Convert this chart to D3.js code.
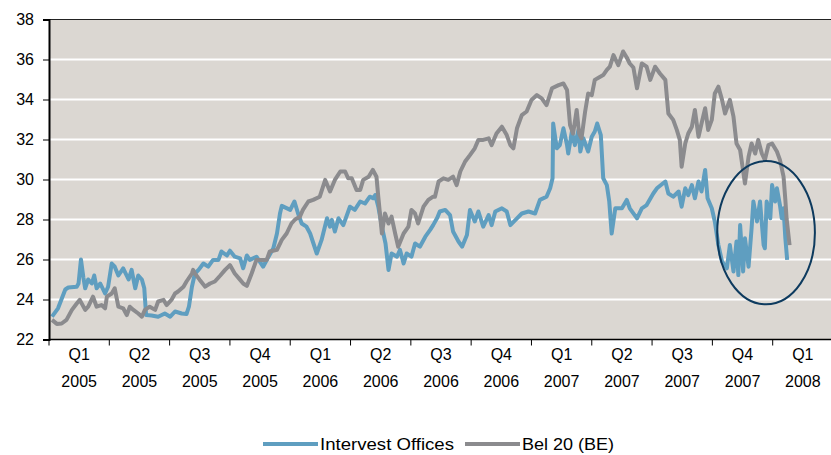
<!DOCTYPE html>
<html>
<head>
<meta charset="utf-8">
<script src="https://cdn.jsdelivr.net/npm/d3@7"></script>
<style>
  body { margin: 0; background: #fff; }
  text { font-family: Arial, "Liberation Sans", sans-serif; fill: #000; }
</style>
</head>
<body>
<div id="chart"></div>
<script>
// quarters on the axis (position 0 = start of Q1 2005)
const quarterLabels = ['Q1','Q2','Q3','Q4','Q1','Q2','Q3','Q4','Q1','Q2','Q3','Q4','Q1']
const yearLabels = ['2005','2005','2005','2005','2006','2006','2006','2006','2007','2007','2007','2007','2008']
const yTicks = [22, 24, 26, 28, 30, 32, 34, 36, 38]
const seriesNames = ['Intervest Offices', 'Bel 20 (BE)']

// [quarters since 1 Jan 2005, price]
const intervest = [
  [0.05,23.14],[0.15,23.56],[0.27,24.5],[0.32,24.6],[0.46,24.64],[0.49,24.8],[0.53,26.0],[0.57,25.1],
  [0.60,24.56],[0.65,25.0],[0.71,24.8],[0.75,25.2],[0.79,24.56],[0.85,24.8],[0.93,24.3],[0.98,24.64],
  [1.04,25.8],[1.09,25.64],[1.15,25.2],[1.23,25.56],[1.32,25.0],[1.37,25.48],[1.43,24.56],[1.48,25.2],
  [1.54,25.0],[1.58,24.56],[1.61,23.22],[1.70,23.2],[1.81,23.14],[1.92,23.3],[2.01,23.14],[2.09,23.4],
  [2.20,23.3],[2.28,23.27],[2.32,23.64],[2.37,24.64],[2.42,25.3],[2.48,25.48],[2.56,25.8],[2.64,25.64],
  [2.72,25.98],[2.81,25.98],[2.86,26.4],[2.95,26.2],[3.00,26.44],[3.08,26.14],[3.17,26.06],[3.22,25.56],
  [3.28,26.2],[3.33,25.98],[3.44,26.14],[3.55,25.64],[3.64,26.14],[3.72,26.56],[3.78,27.3],[3.83,28.3],
  [3.86,28.68],[4.00,28.48],[4.07,28.9],[4.13,28.3],[4.19,27.8],[4.27,27.64],[4.33,27.3],[4.44,26.3],
  [4.52,26.98],[4.61,28.06],[4.66,27.64],[4.69,27.98],[4.74,27.4],[4.80,28.06],[4.88,27.72],[4.99,28.64],
  [5.07,28.48],[5.16,28.9],[5.24,28.8],[5.32,29.14],[5.38,29.06],[5.41,29.22],[5.46,28.64],[5.52,27.64],
  [5.58,26.8],[5.63,25.48],[5.68,26.3],[5.77,26.14],[5.82,26.48],[5.88,25.8],[5.93,26.3],[6.01,26.14],
  [6.07,26.8],[6.15,26.64],[6.24,27.14],[6.32,27.48],[6.37,27.72],[6.44,28.1],[6.48,28.4],[6.57,28.48],
  [6.65,28.22],[6.70,27.4],[6.79,26.9],[6.85,26.64],[6.93,27.22],[6.98,28.48],[7.06,27.9],[7.12,28.4],
  [7.20,27.64],[7.29,28.22],[7.34,27.72],[7.40,28.4],[7.51,28.56],[7.59,28.4],[7.65,27.72],[7.76,28.06],
  [7.84,28.3],[7.95,28.4],[8.06,28.3],[8.14,28.98],[8.25,29.14],[8.31,29.56],[8.35,30.06],[8.36,32.8],
  [8.42,31.56],[8.47,31.72],[8.53,32.56],[8.59,31.72],[8.61,31.3],[8.67,32.4],[8.72,31.72],[8.78,32.48],
  [8.81,31.4],[8.86,32.06],[8.94,31.4],[9.00,32.14],[9.05,32.4],[9.09,32.8],[9.15,32.22],[9.19,30.06],
  [9.25,29.72],[9.29,28.9],[9.33,27.3],[9.39,28.56],[9.50,28.56],[9.58,28.98],[9.63,28.56],[9.75,28.06],
  [9.83,28.56],[9.91,28.72],[10.02,29.3],[10.08,29.56],[10.22,29.9],[10.27,29.3],[10.35,29.14],[10.44,29.4],
  [10.49,28.64],[10.55,29.56],[10.60,29.22],[10.66,29.72],[10.71,29.06],[10.77,29.9],[10.82,29.4],[10.88,30.48],
  [10.92,29.06],[10.99,28.56],[11.04,27.9],[11.10,26.72],[11.16,25.9],[11.24,25.56],[11.29,26.72],[11.35,25.4],
  [11.40,26.9],[11.43,25.22],[11.46,27.72],[11.51,25.4],[11.54,27.06],[11.60,25.64],[11.65,27.56],[11.68,28.9],
  [11.74,27.9],[11.79,28.9],[11.85,26.72],[11.87,26.56],[11.90,28.9],[11.96,28.06],[11.99,29.72],[12.04,28.9],
  [12.07,29.56],[12.12,28.72],[12.15,28.06],[12.18,28.56],[12.21,27.06],[12.24,25.98]
]

const bel20 = [
  [0.05,22.98],[0.13,22.78],[0.21,22.8],[0.29,22.98],[0.38,23.48],[0.46,23.8],[0.51,23.98],[0.60,23.48],
  [0.65,23.64],[0.73,24.14],[0.79,23.64],[0.87,23.72],[0.93,23.56],[0.96,24.14],[1.04,24.3],[1.09,24.56],
  [1.15,23.64],[1.23,23.56],[1.29,23.22],[1.34,23.64],[1.40,23.48],[1.48,23.3],[1.54,23.14],[1.59,23.48],
  [1.67,23.64],[1.76,23.48],[1.81,23.9],[1.90,23.98],[1.95,23.72],[2.03,23.98],[2.09,24.3],[2.14,24.4],
  [2.23,24.64],[2.28,24.9],[2.37,25.3],[2.39,25.48],[2.42,25.3],[2.50,24.98],[2.59,24.64],[2.67,24.8],
  [2.75,24.9],[2.84,25.2],[2.92,25.48],[3.00,25.72],[3.08,25.3],[3.17,24.98],[3.22,24.8],[3.28,24.68],
  [3.36,25.3],[3.44,25.98],[3.55,25.98],[3.61,25.98],[3.66,26.4],[3.78,26.48],[3.86,26.98],[3.94,27.3],
  [4.02,27.8],[4.08,28.0],[4.16,28.14],[4.21,28.48],[4.30,28.9],[4.38,28.98],[4.49,29.14],[4.58,29.98],
  [4.66,29.4],[4.74,29.98],[4.83,30.4],[4.91,30.4],[4.96,30.06],[5.02,30.06],[5.10,29.48],[5.16,29.48],
  [5.21,29.98],[5.30,30.14],[5.37,30.48],[5.43,30.14],[5.46,29.14],[5.52,27.3],[5.57,28.3],[5.63,27.8],
  [5.68,28.14],[5.74,27.3],[5.79,26.64],[5.88,27.3],[5.96,27.64],[6.01,28.48],[6.07,28.3],[6.12,27.8],
  [6.21,28.64],[6.29,28.98],[6.37,29.14],[6.40,29.14],[6.46,29.9],[6.54,30.06],[6.62,29.98],[6.70,30.14],
  [6.76,29.72],[6.82,30.4],[6.90,30.9],[6.98,31.22],[7.06,31.56],[7.12,31.98],[7.20,31.98],[7.29,32.06],
  [7.34,31.72],[7.42,32.3],[7.51,32.64],[7.59,32.22],[7.65,31.72],[7.70,31.56],[7.76,32.56],[7.84,33.22],
  [7.92,33.4],[8.00,33.98],[8.09,34.22],[8.17,34.06],[8.25,33.72],[8.34,34.56],[8.45,34.72],[8.53,34.8],
  [8.59,34.48],[8.64,32.72],[8.69,32.3],[8.75,33.48],[8.79,32.3],[8.83,32.06],[8.89,33.4],[8.94,34.3],
  [9.00,34.22],[9.05,34.98],[9.14,35.14],[9.19,35.22],[9.25,35.48],[9.30,35.64],[9.36,36.22],[9.44,35.72],
  [9.52,36.4],[9.58,36.1],[9.63,35.8],[9.69,35.6],[9.75,34.56],[9.83,35.8],[9.91,35.64],[9.97,34.98],
  [10.05,35.64],[10.13,35.3],[10.22,34.98],[10.27,33.3],[10.35,32.98],[10.41,32.48],[10.46,31.98],[10.49,30.64],
  [10.55,31.8],[10.60,32.3],[10.66,32.64],[10.71,33.48],[10.77,32.14],[10.82,32.8],[10.88,33.56],[10.93,32.48],
  [10.99,32.98],[11.04,34.3],[11.10,34.64],[11.16,33.98],[11.21,33.3],[11.29,33.98],[11.35,33.14],[11.40,31.8],
  [11.46,31.48],[11.50,30.64],[11.54,29.8],[11.60,31.14],[11.65,31.8],[11.71,31.3],[11.76,31.98],[11.82,31.3],
  [11.87,30.98],[11.93,31.72],[11.99,31.8],[12.07,31.4],[12.12,30.98],[12.18,30.14],[12.21,28.98],[12.23,28.06],
  [12.28,26.72]
]

// highlight ellipse around the last quarter: centre [quarter, price], radii [quarters, price]
const highlight = { cx: 11.89, cy: 27.34, rx: 0.81, ry: 3.58 }

const colors = { blue: '#5f9ec0', grey: '#8b8b8e', plot: '#dbd7d2', ring: '#0d3a5e' }

const width = 831, height = 455
const svg = d3.select('#chart').append('svg')
  .attr('width', width)
  .attr('height', height)

const x = d3.scaleLinear().domain([0, 13]).range([49, 833])
const y = d3.scaleLinear().domain([22, 38]).range([339.5, 19.5])

svg.append('defs').append('clipPath').attr('id', 'plotclip')
  .append('rect')
  .attr('x', x(0)).attr('y', y(38))
  .attr('width', width - x(0)).attr('height', y(22) - y(38))

// plot background
svg.append('rect')
  .attr('x', x(0))
  .attr('y', y(38))
  .attr('width', width - x(0))
  .attr('height', y(22) - y(38))
  .attr('fill', colors.plot)

// gridlines
svg.append('g').selectAll('line')
  .data(yTicks.filter(d => d > 22 && d < 38))
  .enter()
  .append('line')
  .attr('x1', x(0)).attr('x2', width)
  .attr('y1', d => y(d)).attr('y2', d => y(d))
  .attr('stroke', '#fff')
  .attr('stroke-width', 2)

// top border
svg.append('line')
  .attr('x1', x(0)).attr('x2', width)
  .attr('y1', y(38)).attr('y2', y(38))
  .attr('stroke', '#222').attr('stroke-width', 1)

const line = d3.line()
  .x(d => x(d[0]))
  .y(d => y(d[1]))

const lines = svg.append('g').attr('clip-path', 'url(#plotclip)')
lines.append('path')
  .datum(intervest)
  .attr('d', line)
  .attr('fill', 'none')
  .attr('stroke', colors.blue)
  .attr('stroke-width', 4)
  .attr('stroke-linejoin', 'round')
lines.append('path')
  .datum(bel20)
  .attr('d', line)
  .attr('fill', 'none')
  .attr('stroke', colors.grey)
  .attr('stroke-width', 4)
  .attr('stroke-linejoin', 'round')

// the ring
svg.append('ellipse')
  .attr('cx', x(highlight.cx))
  .attr('cy', y(highlight.cy))
  .attr('rx', x(highlight.rx) - x(0))
  .attr('ry', y(22) - y(22 + highlight.ry))
  .attr('fill', 'none')
  .attr('stroke', colors.ring)
  .attr('stroke-width', 2)

// y axis
const yAxis = d3.axisLeft(y)
  .tickValues(yTicks)
  .tickSize(6)
  .tickPadding(9)
  .tickFormat(d3.format('d'))
const yg = svg.append('g')
  .attr('transform', 'translate(' + x(0) + ',0)')
  .call(yAxis)
yg.select('.domain').attr('stroke', '#000').attr('stroke-width', 2)
yg.selectAll('.tick line').attr('stroke', '#000')
yg.selectAll('.tick text').style('font-size', '16px').attr('fill', '#000')

// x axis (ticks only at quarter boundaries)
const xg = svg.append('g')
  .attr('transform', 'translate(0,' + y(22) + ')')
xg.append('line')
  .attr('x1', x(0)).attr('x2', width)
  .attr('stroke', '#000').attr('stroke-width', 1.5)
xg.selectAll('.qtick')
  .data(d3.range(0, quarterLabels.length))
  .enter()
  .append('line')
  .attr('class', 'qtick')
  .attr('x1', d => x(d)).attr('x2', d => x(d))
  .attr('y1', 0).attr('y2', 6)
  .attr('stroke', '#000')

const labels = xg.selectAll('.qlabel')
  .data(quarterLabels)
  .enter()
  .append('text')
  .attr('class', 'qlabel')
  .attr('text-anchor', 'middle')
  .style('font-size', '16px')
labels.append('tspan')
  .attr('x', (d, i) => x(i + 0.5))
  .attr('y', 20)
  .text(d => d)
labels.append('tspan')
  .attr('x', (d, i) => x(i + 0.5))
  .attr('y', 47)
  .text((d, i) => yearLabels[i])

// legend (text in the original is a bit stretched, so fix its length)
const legend = svg.append('g').attr('transform', 'translate(263,444)')
const legendX = [0, 202]
const legendLen = [134, 92]
const legendColors = [colors.blue, colors.grey]
seriesNames.forEach((name, i) => {
  legend.append('line')
    .attr('x1', legendX[i]).attr('x2', legendX[i] + 55)
    .attr('y1', 0).attr('y2', 0)
    .attr('stroke', legendColors[i])
    .attr('stroke-width', 4)
  legend.append('text')
    .attr('x', legendX[i] + 57)
    .attr('y', 6)
    .attr('textLength', legendLen[i])
    .attr('lengthAdjust', 'spacingAndGlyphs')
    .style('font-size', '16px')
    .text(name)
})
</script>
</body>
</html>
